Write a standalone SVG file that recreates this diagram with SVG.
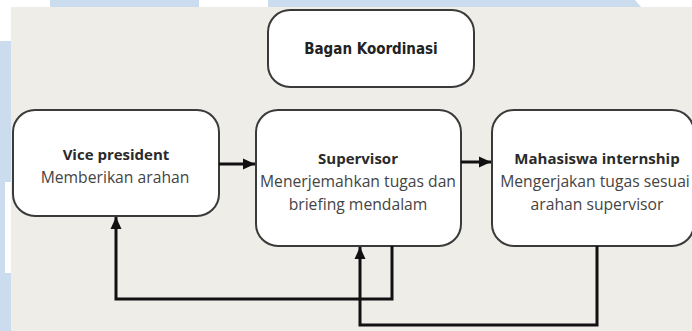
<svg xmlns="http://www.w3.org/2000/svg" width="692" height="331" viewBox="0 0 692 331">
  <style>
    .box { fill: #ffffff; stroke: #3a3a3a; stroke-width: 2; }
    .title { font-family: "Open Sans", "Noto Sans", sans-serif; font-weight: bold; font-size: 15px; fill: #2a2a2a; text-anchor: middle; }
    .sub { font-family: "Open Sans", "Noto Sans", sans-serif; font-size: 15.7px; fill: #444444; text-anchor: middle; }
    .head { font-family: "DejaVu Sans Condensed", "Roboto Condensed", "Liberation Sans", sans-serif; font-weight: bold; font-size: 15px; fill: #222222; text-anchor: middle; }
    .wire { fill: none; stroke: #111111; stroke-width: 3; }
    .wm { fill: #cbdcee; }
  </style>
  <defs>
    <marker id="arrow" markerUnits="userSpaceOnUse" markerWidth="14" markerHeight="14" viewBox="0 0 14 14" refX="13" refY="7" orient="auto">
      <path d="M1,1.5 L13,7 L1,12.5 Z" fill="#111111"/>
    </marker>
  </defs>

  <g id="background">
    <rect x="0" y="0" width="692" height="331" fill="#ffffff"/>
    <rect class="wm" x="50" y="0" width="149" height="8"/>
    <polygon class="wm" points="268,0 635,0 642,8 268,8"/>
    <rect class="wm" x="0" y="41" width="12" height="290"/>
    <rect x="5" y="182" width="7" height="91" fill="#ffffff"/>
    <rect x="11" y="7" width="681" height="324" fill="#eeede8"/>
  </g>

  <g id="node-bagan">
    <rect class="box" x="268" y="10" width="206" height="77" rx="22"/>
    <text class="head" x="371" y="54">Bagan Koordinasi</text>
  </g>

  <g id="node-vp">
    <rect class="box" x="13" y="110" width="206" height="106" rx="22"/>
    <text class="title" x="116" y="160">Vice president</text>
    <text class="sub" x="115" y="183">Memberikan arahan</text>
  </g>

  <g id="node-supervisor">
    <rect class="box" x="256" y="110" width="205" height="136" rx="22"/>
    <text class="title" x="358" y="164">Supervisor</text>
    <text class="sub" x="358" y="187">Menerjemahkan tugas dan</text>
    <text class="sub" x="358" y="210">briefing mendalam</text>
  </g>

  <g id="node-mahasiswa">
    <rect class="box" x="492" y="110" width="202" height="136" rx="22"/>
    <text class="title" x="597" y="164">Mahasiswa internship</text>
    <text class="sub" x="595" y="187">Mengerjakan tugas sesuai</text>
    <text class="sub" x="597" y="210">arahan supervisor</text>
  </g>

  <g id="connectors">
    <line class="wire" x1="219" y1="164" x2="255" y2="164" marker-end="url(#arrow)"/>
    <line class="wire" x1="461" y1="162" x2="491" y2="162" marker-end="url(#arrow)"/>
    <polyline class="wire" points="392,246 392,299 116,299 116,217" marker-end="url(#arrow)"/>
    <polyline class="wire" points="597,246 597,325 360,325 360,247" marker-end="url(#arrow)"/>
  </g>
</svg>
